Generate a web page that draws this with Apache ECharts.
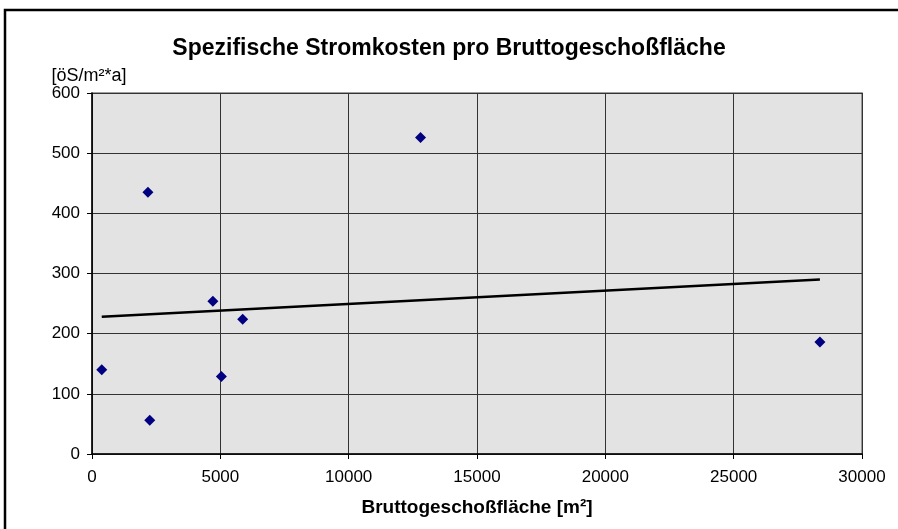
<!DOCTYPE html>
<html>
<head>
<meta charset="utf-8">
<script src="https://cdn.jsdelivr.net/npm/echarts@6/dist/echarts.min.js"></script>
<style>html,body{margin:0;padding:0;background:#fff;}#c{width:898px;height:529px;}</style>
</head>
<body>
<div id="c"></div>
<script>
var titleText = 'Spezifische Stromkosten pro Bruttogeschoßfläche';
var xName = 'Bruttogeschoßfläche [m²]';
var yName = '[öS/m²*a]';
var areaX = [380, 2180, 2250, 4710, 5040, 5870, 12800, 28360];
var costY = [140, 435, 56, 254, 129, 224, 526, 186];
var trendX = [380, 28360];
var trendY = [228, 290];

var pts = areaX.map(function (x, i) { return [x, costY[i]]; });
var trend = trendX.map(function (x, i) { return [x, trendY[i]]; });
var plain = function (v) { return String(v); };

var chart = echarts.init(document.getElementById('c'));
chart.setOption({
  animation: false,
  backgroundColor: '#fff',
  textStyle: { fontFamily: 'Liberation Sans, Arial, sans-serif', color: '#000' },
  title: {
    text: titleText, left: 'center', top: 32,
    textStyle: { fontSize: 23, fontWeight: 'bold', color: '#000', fontFamily: 'Liberation Sans, Arial, sans-serif' }
  },
  graphic: [{
    type: 'rect', shape: { x: 5, y: 10, width: 1000, height: 1000 },
    style: { fill: 'none', stroke: '#000', lineWidth: 2.5 }, silent: true, z: 100
  }],
  grid: {
    left: 92, right: 36, top: 93, bottom: 75, show: true,
    backgroundColor: '#e3e3e3', borderColor: '#808080', borderWidth: 1.5
  },
  xAxis: {
    type: 'value', min: 0, max: 30000, interval: 5000,
    name: xName, nameLocation: 'middle', nameGap: 44,
    nameTextStyle: { fontSize: 19, fontWeight: 'bold', color: '#000' },
    axisLine: { show: true, onZero: false, lineStyle: { color: '#000', width: 1.5 } },
    axisTick: { show: true, inside: false, length: 5, lineStyle: { color: '#000' } },
    axisLabel: { fontSize: 17, color: '#000', margin: 15, formatter: plain },
    splitLine: { show: true, lineStyle: { color: '#333', width: 1 } }
  },
  yAxis: {
    type: 'value', min: 0, max: 600, interval: 100,
    name: yName, nameLocation: 'end', nameGap: 8,
    nameTextStyle: { fontSize: 18, color: '#000', align: 'center', padding: [0, 6, 0, 0] },
    axisLine: { show: true, onZero: false, lineStyle: { color: '#000', width: 1.5 } },
    axisTick: { show: true, inside: false, length: 5, lineStyle: { color: '#000' } },
    axisLabel: { fontSize: 17, color: '#000', margin: 12, formatter: plain },
    splitLine: { show: true, lineStyle: { color: '#333', width: 1 } }
  },
  series: [
    {
      type: 'line', data: trend, showSymbol: false, symbol: 'none',
      lineStyle: { color: '#000', width: 2.5 }, z: 2
    },
    {
      type: 'scatter', data: pts, symbol: 'diamond', symbolSize: 11,
      itemStyle: { color: '#000080', opacity: 1 }, z: 3
    }
  ]
});
</script>
</body>
</html>
